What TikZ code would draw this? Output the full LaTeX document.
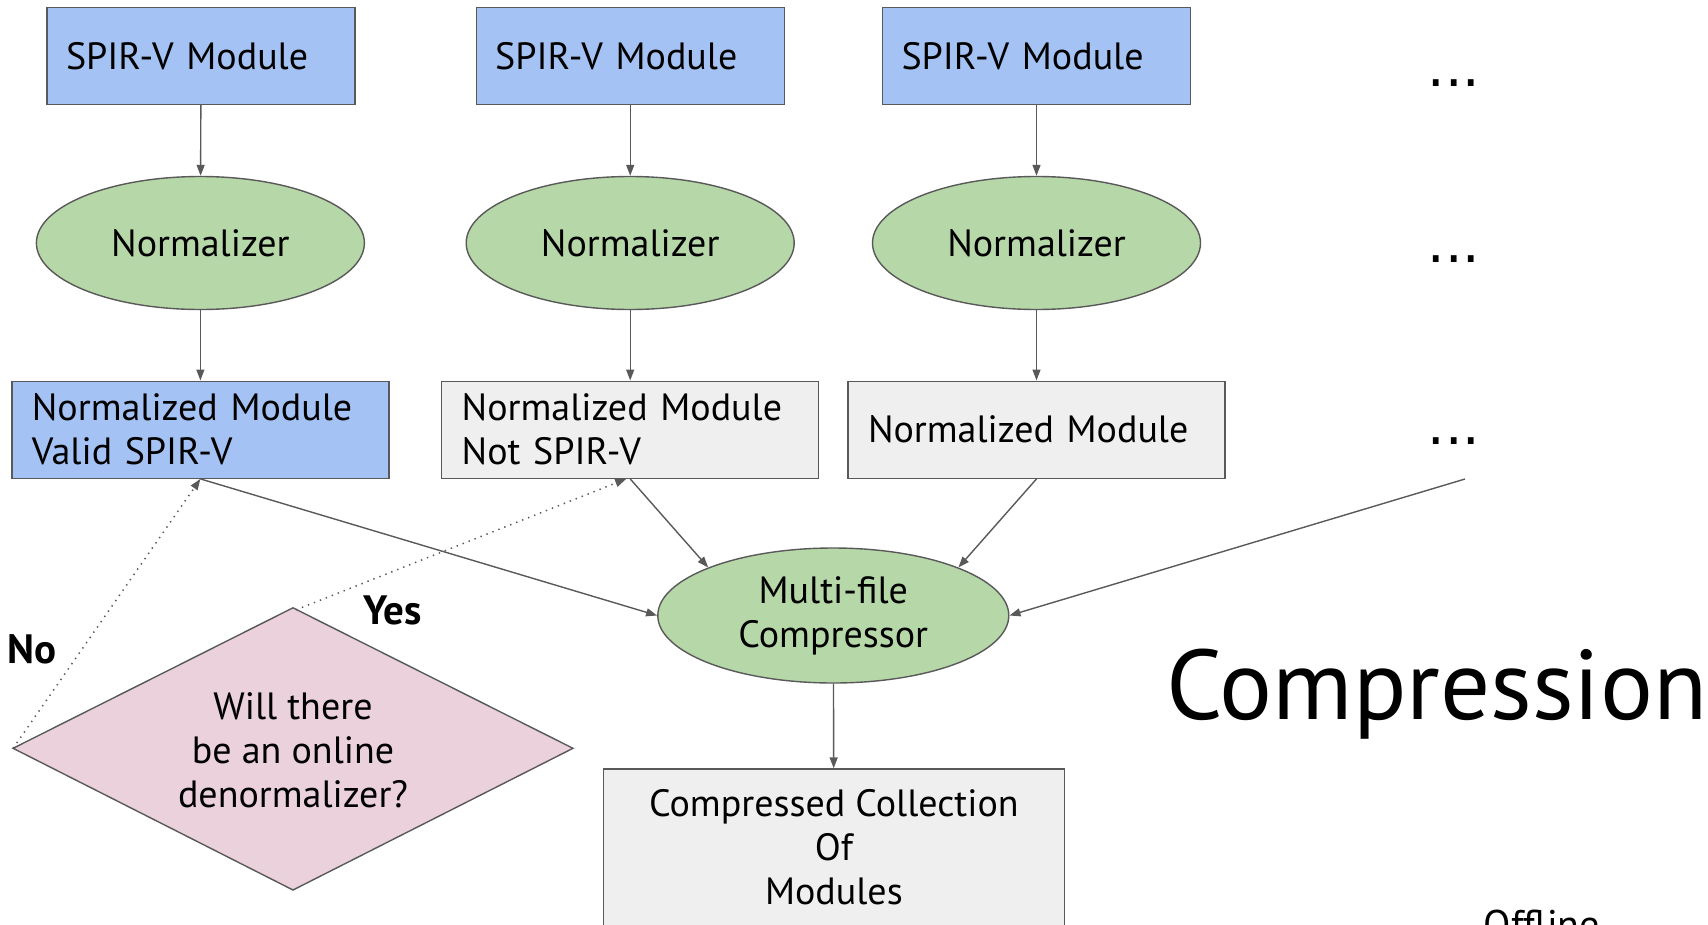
\documentclass[tikz,border=0pt]{standalone}
\usepackage{fontspec}
\setmainfont{PT Sans}
\newfontfamily\dotfont{DejaVu Sans}
\usetikzlibrary{shapes.geometric,arrows.meta}
\definecolor{modblue}{HTML}{A4C2F4}
\definecolor{normgreen}{HTML}{B6D7A8}
\definecolor{boxgray}{HTML}{EFEFEF}
\definecolor{askpink}{HTML}{EAD1DC}
\definecolor{edge}{HTML}{595959}
\tikzset{
  base/.style={draw=edge, line width=1.4pt, inner sep=0pt, font=\fontsize{38}{44}\selectfont},
  modbox/.style={base, rectangle, fill=modblue, minimum width=308pt, minimum height=97pt, text width=270pt, align=left},
  normbox/.style={base, rectangle, minimum width=377pt, minimum height=97pt, text width=337pt, align=left},
  normell/.style={base, ellipse, fill=normgreen, minimum width=328pt, minimum height=133pt},
  flow/.style={draw=edge, line width=1.4pt, -{Triangle[length=11pt,width=8pt]}},
  maybe/.style={draw=edge, line width=1.5pt, dash pattern=on 1.4pt off 5pt, -{Triangle[length=11pt,width=8pt]}},
  more/.style={font=\dotfont\fontsize{55}{60}\selectfont, inner sep=0pt, anchor=base},
  answer/.style={font=\fontsize{41}{44}\selectfont\bfseries, inner sep=0pt}
}
\begin{document}
\begin{tikzpicture}[x=1pt,y=-1pt]
\useasboundingbox (0,0) rectangle (1708,924);

% input modules
\node[modbox] (m1) at (201,56) {SPIR-V Module};
\node[modbox] (m2) at (630.2,56) {SPIR-V Module};
\node[modbox] (m3) at (1036.5,56) {SPIR-V Module};

% normalizers
\node[normell] (n1) at (200.4,243) {Normalizer};
\node[normell] (n2) at (630.2,243) {Normalizer};
\node[normell] (n3) at (1036.5,243) {Normalizer};

% normalized modules
\node[normbox, fill=modblue] (b1) at (200.4,429.7) {Normalized Module\\Valid SPIR-V};
\node[normbox, fill=boxgray] (b2) at (630.2,429.7) {Normalized Module\\Not SPIR-V};
\node[normbox, fill=boxgray] (b3) at (1036.5,429.7) {Normalized Module};

% further modules
\node[more] (d1) at (1454,86.7) {...};
\node[more] (d2) at (1454,262.6) {...};
\node[more] (d3) at (1454,444.6) {...};
\coordinate (dots) at (1465,479);

% compressor and its output
\node[base, ellipse, fill=normgreen, minimum width=351pt, minimum height=135pt, align=center] (comp) at (833.3,615.5) {Multi-file\\Compressor};
\node[base, rectangle, fill=boxgray, minimum width=461pt, minimum height=157pt, align=center] (out) at (833.9,847.5) {Compressed Collection\\Of\\Modules};

% decision
\coordinate (askW) at (13.1,748.3);
\coordinate (askN) at (293,607.8);
\coordinate (askE) at (573,748.3);
\coordinate (askS) at (293,890);
\draw[draw=edge, line width=1.4pt, fill=askpink] (askW) -- (askN) -- (askE) -- (askS) -- cycle;
\node[font=\fontsize{38}{44}\selectfont, inner sep=0pt, align=center] (ask) at (293,750.5) {Will there\\be an online\\denormalizer?};
\node[answer] (no) at (31.6,649) {No};
\node[answer] (yes) at (393,610) {Yes};

% titles
\node[font=\fontsize{99}{110}\selectfont, inner sep=0pt, anchor=base] (title) at (1437,719) {Compression};
\node[font=\fontsize{40}{44}\selectfont, inner sep=0pt, anchor=base] (mode) at (1542,938) {Offline};

% connectors
\draw[flow] (m1) -- (n1);
\draw[flow] (m2) -- (n2);
\draw[flow] (m3) -- (n3);
\draw[flow] (n1) -- (b1);
\draw[flow] (n2) -- (b2);
\draw[flow] (n3) -- (b3);
\draw[flow] (b1.south) -- (comp.west);
\draw[flow] (b2.south) -- (comp.159);
\draw[flow] (b3.south) -- (comp.21);
\draw[flow] (dots) -- (comp.east);
\draw[flow] (comp) -- (out);
\draw[maybe] (askW) -- (b1.south);
\draw[maybe] ([xshift=3pt,yshift=-2pt]askN) -- ([xshift=-4pt]b2.south);
\end{tikzpicture}
\end{document}
